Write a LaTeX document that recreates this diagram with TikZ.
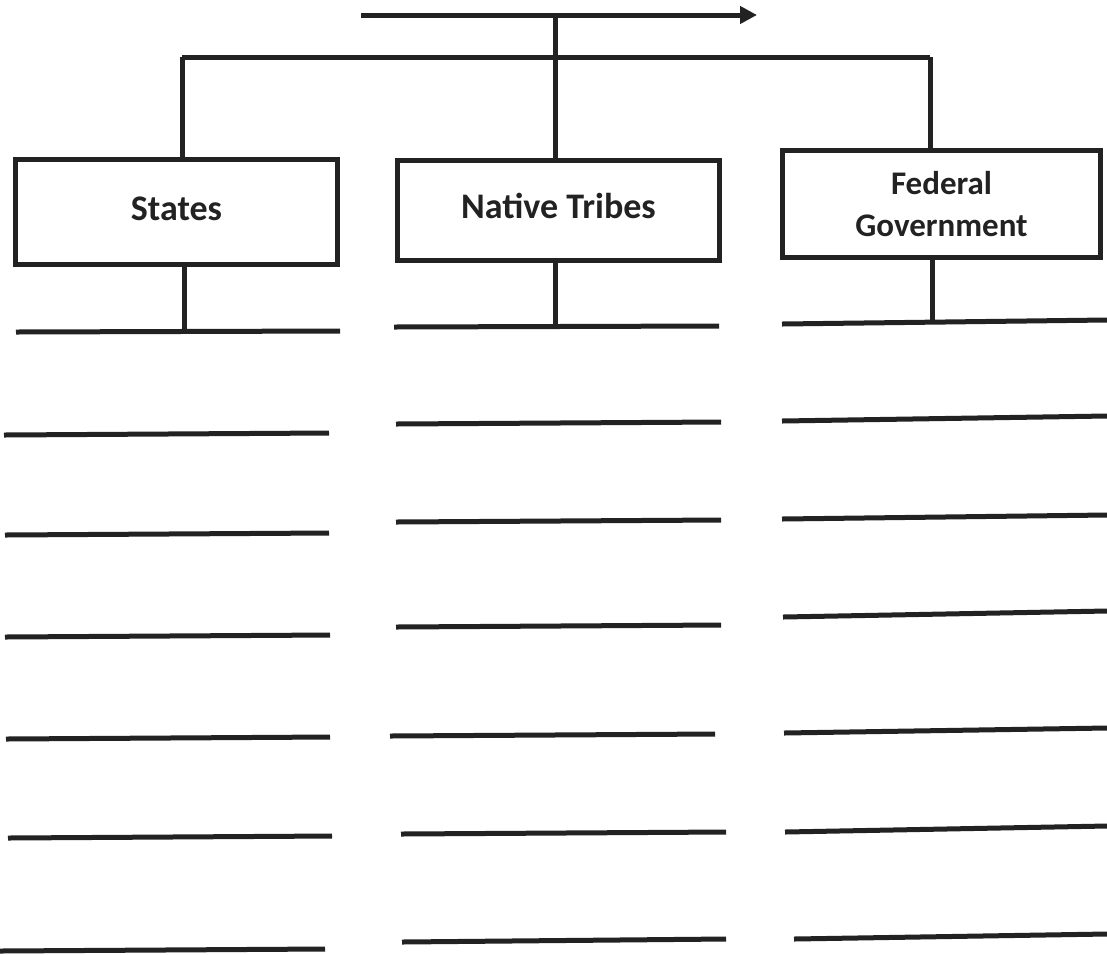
\documentclass[tikz,border=0pt]{standalone}
\usepackage{fontspec}
\setmainfont{Carlito}
\usetikzlibrary{arrows.meta}
\definecolor{ink}{HTML}{222222}
\tikzset{
  box/.style={draw=ink, line width=5pt, fill=white, inner sep=0pt, align=center,
    font=\fontsize{36}{42}\selectfont\bfseries, text=ink},
  wire/.style={draw=ink, line width=5pt},
  blank/.style={draw=ink, line width=5pt},
}
\begin{document}
\begin{tikzpicture}[x=1pt,y=-1pt]
\useasboundingbox[fill=white] (0,0) rectangle (1107,954);
% boxes
\node[box, minimum width=322pt, minimum height=105pt] (states) at (176.5,212) {\raisebox{7pt}{States}};
\node[box, minimum width=322pt, minimum height=100pt] (tribes) at (558.5,210.5) {\raisebox{9pt}{Native Tribes}};
\node[box, minimum width=318pt, minimum height=107pt,
      font=\fontsize{33}{42}\selectfont\bfseries] (fed) at (941.5,204) {Federal\\Government};
% top arrow and bar
\coordinate (arrS) at (361,15);
\coordinate (arrE) at (757,15);
\coordinate (arrJ) at (555,15);
\coordinate (barL) at (182,57);
\coordinate (barR) at (930,57);
\draw[wire, -{Triangle[length=17pt,width=17pt]}] (arrS) -- (arrE);
\draw[wire] (arrJ) -- (tribes.north -| arrJ);
\draw[wire] (barL) -- (barR);
\draw[wire] (barL) -- (states.north -| barL);
\draw[wire] (barR) -- (fed.north -| barR);
% blank lines: left column
\coordinate (l1a) at (16,332);  \coordinate (l1b) at (340,331);
\coordinate (l2a) at (4,435);   \coordinate (l2b) at (329,433);
\coordinate (l3a) at (5,535);   \coordinate (l3b) at (329,533);
\coordinate (l4a) at (5,637);   \coordinate (l4b) at (330,635);
\coordinate (l5a) at (6,739);   \coordinate (l5b) at (330,737);
\coordinate (l6a) at (8,838);   \coordinate (l6b) at (332,836);
\coordinate (l7a) at (0,951);   \coordinate (l7b) at (325,949);
% middle column
\coordinate (m1a) at (394,327); \coordinate (m1b) at (719,326);
\coordinate (m2a) at (396,424); \coordinate (m2b) at (721,422);
\coordinate (m3a) at (396,522); \coordinate (m3b) at (721,520);
\coordinate (m4a) at (396,627); \coordinate (m4b) at (721,625);
\coordinate (m5a) at (390,736); \coordinate (m5b) at (715,734);
\coordinate (m6a) at (401,834); \coordinate (m6b) at (726,832);
\coordinate (m7a) at (402,942); \coordinate (m7b) at (726,939);
% right column
\coordinate (r1a) at (782,324); \coordinate (r1b) at (1107,320);
\coordinate (r2a) at (782,421); \coordinate (r2b) at (1107,416);
\coordinate (r3a) at (782,519); \coordinate (r3b) at (1107,515);
\coordinate (r4a) at (783,617); \coordinate (r4b) at (1107,611);
\coordinate (r5a) at (784,733); \coordinate (r5b) at (1107,728);
\coordinate (r6a) at (785,832); \coordinate (r6b) at (1107,826);
\coordinate (r7a) at (794,939); \coordinate (r7b) at (1107,934);
\foreach \c in {l,m,r}{
  \foreach \i in {1,...,7}{
    \draw[blank] (\c\i a) -- (\c\i b);
  }
}
% stubs from boxes to first lines
\coordinate (sS) at (184,332);
\coordinate (sT) at (555,327);
\coordinate (sF) at (932,322);
\draw[wire] (states.south -| sS) -- (sS);
\draw[wire] (tribes.south -| sT) -- (sT);
\draw[wire] (fed.south -| sF) -- (sF);
\end{tikzpicture}
\end{document}
